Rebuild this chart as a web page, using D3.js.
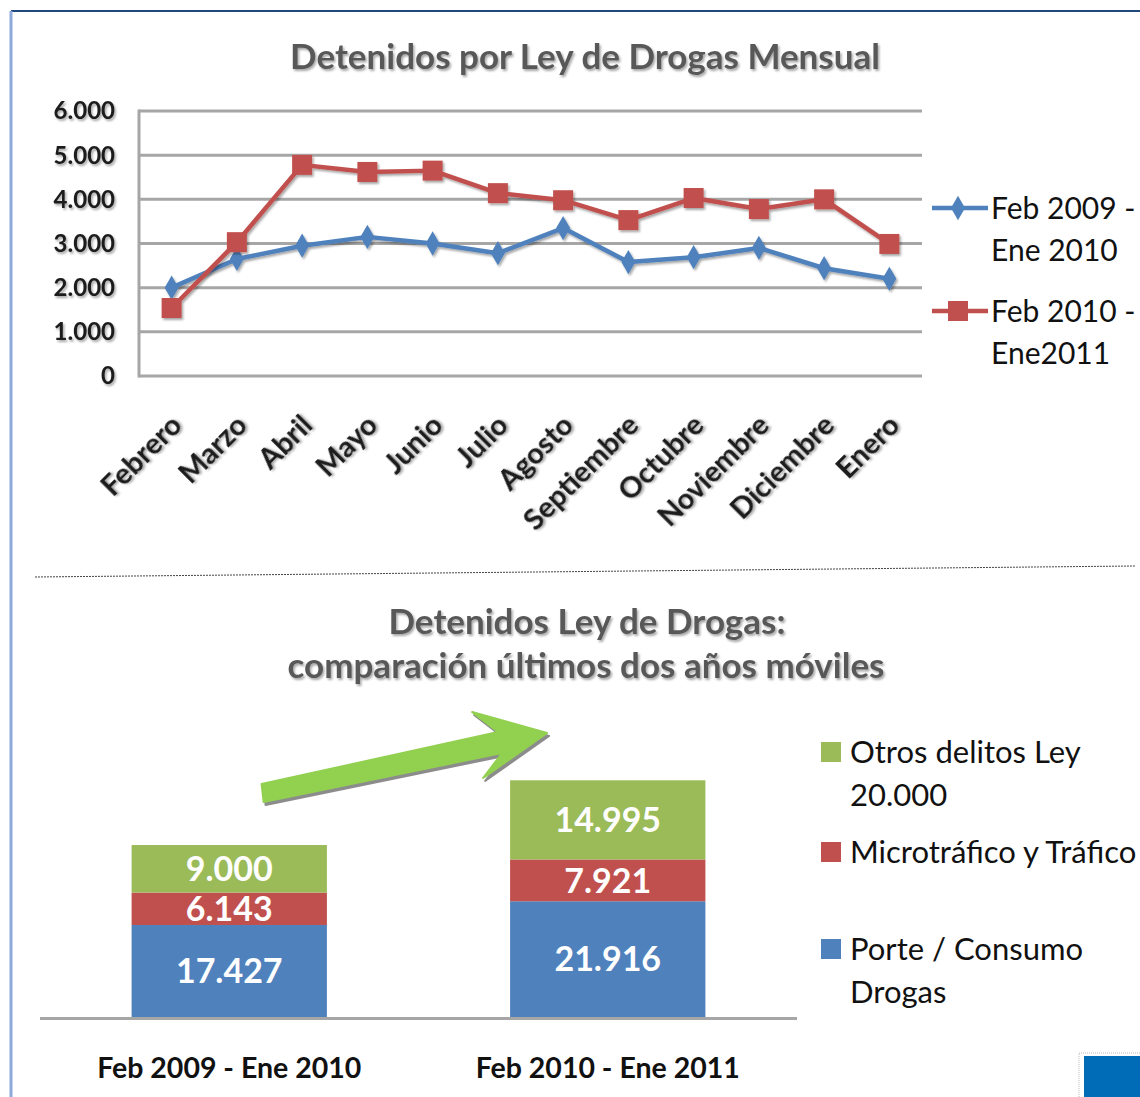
<!DOCTYPE html>
<meta charset="utf-8">
<style>
body { margin: 0; background: #fff; }
svg { display: block; font-family: Lato, "Open Sans", sans-serif; }
.grid line { stroke: #a6a6a6; stroke-width: 3px; }
.ttl { fill: #595959; font-weight: bold; font-size: 35px; text-anchor: middle; }
.lbl { fill: #1a1a1a; font-weight: bold; }
.leg { fill: #111; }
</style>
<body>
<script src="https://d3js.org/d3.v7.min.js"></script>
<script>

// data - monthly line chart
var months = ["Febrero", "Marzo", "Abril", "Mayo", "Junio", "Julio", "Agosto",
              "Septiembre", "Octubre", "Noviembre", "Diciembre", "Enero"];
var serie0910 = [2000, 2650, 2950, 3150, 3000, 2780, 3350, 2580, 2690, 2900, 2440, 2200];
var serie1011 = [1540, 3030, 4780, 4620, 4650, 4140, 3980, 3530, 4030, 3780, 4000, 2990];
var lineNames = [["Feb 2009 -", "Ene 2010"], ["Feb 2010 -", "Ene2011"]];
var yTicks = [0, 1000, 2000, 3000, 4000, 5000, 6000];

// data - stacked bars
var periods = ["Feb 2009 - Ene 2010", "Feb 2010 - Ene 2011"];
var porte = [17427, 21916];
var trafico = [6143, 7921];
var otros = [9000, 14995];
var stackNames = [["Otros delitos Ley", "20.000"], ["Microtráfico y Tráfico"], ["Porte / Consumo", "Drogas"]];

var blue = "#4f81bd", red = "#c0504d", green = "#9bbb59";
var fmt = function(v) { return d3.format(",")(v).replace(/,/g, "."); };

var svg = d3.select("body").append("svg")
    .attr("width", 1140)
    .attr("height", 1097);

// shadow filter
var defs = svg.append("defs");
var f = defs.append("filter").attr("id", "sh").attr("x", "-10%").attr("y", "-10%").attr("width", "130%").attr("height", "140%");
f.append("feDropShadow").attr("dx", 1.5).attr("dy", 2).attr("stdDeviation", 0.8)
  .attr("flood-color", "#000").attr("flood-opacity", 0.35);

// page frame
svg.append("line").attr("x1", 11).attr("x2", 1140).attr("y1", 11).attr("y2", 11)
  .style("stroke", "#1f497d").style("stroke-width", 2);
svg.append("line").attr("x1", 11).attr("x2", 11).attr("y1", 11).attr("y2", 1097)
  .style("stroke", "#8eaadb").style("stroke-width", 3);

// ---------- top chart ----------
var x = d3.scaleBand().domain(months).range([139, 922]);
var y = d3.scaleLinear().domain([0, 6000]).range([376, 111]);

svg.append("text").attr("class", "ttl").attr("x", 585).attr("y", 57)
  .attr("dy", "0.35em").attr("filter", "url(#sh)")
  .text("Detenidos por Ley de Drogas Mensual");

svg.append("g").attr("class", "grid")
  .selectAll("line").data(yTicks).enter().append("line")
  .attr("x1", 139).attr("x2", 922)
  .attr("y1", function(d) { return y(d); })
  .attr("y2", function(d) { return y(d); });
svg.append("line").attr("x1", 139).attr("x2", 139).attr("y1", y(6000) - 1.5).attr("y2", y(0) + 1.5)
  .style("stroke", "#a6a6a6").style("stroke-width", 3);

svg.append("g").selectAll("text").data(yTicks).enter().append("text")
  .attr("class", "lbl")
  .attr("x", 115)
  .attr("y", function(d) { return y(d); })
  .attr("dy", "0.35em")
  .attr("text-anchor", "end")
  .style("font-size", "24px")
  .attr("filter", "url(#sh)")
  .text(fmt);

svg.append("g").selectAll("text").data(months).enter().append("text")
  .attr("class", "lbl")
  .attr("transform", function(d) { return "translate(" + (x(d) + x.bandwidth() / 2 + 12) + ",427) rotate(-45)"; })
  .attr("text-anchor", "end")
  .style("font-size", "29px")
  .attr("filter", "url(#sh)")
  .text(function(d) { return d; });

var line = d3.line()
  .x(function(d, i) { return x(months[i]) + x.bandwidth() / 2; })
  .y(function(d) { return y(d); });

var diamond = d3.symbol().type(d3.symbolDiamond).size(170);
var square = d3.symbol().type(d3.symbolSquare).size(400);

[[serie0910, blue, diamond], [serie1011, red, square]].forEach(function(s) {
  var g = svg.append("g").attr("filter", "url(#sh)");
  g.append("path").datum(s[0])
    .attr("d", line)
    .style("fill", "none")
    .style("stroke", s[1])
    .style("stroke-width", 4.5)
    .style("stroke-linejoin", "round");
  g.selectAll("path.m").data(s[0]).enter().append("path")
    .attr("class", "m")
    .attr("transform", function(d, i) { return "translate(" + (x(months[i]) + x.bandwidth() / 2) + "," + y(d) + ")"; })
    .attr("d", s[2])
    .style("fill", s[1]);
});

// legend top
lineNames.forEach(function(n, i) {
  var ly = 208 + i * 103;
  var col = i === 0 ? blue : red;
  var g = svg.append("g");
  g.append("line").attr("x1", 932).attr("x2", 988).attr("y1", ly).attr("y2", ly)
    .style("stroke", col).style("stroke-width", 4.5);
  g.append("path").attr("transform", "translate(958," + ly + ")")
    .attr("d", i === 0 ? diamond : square).style("fill", col);
  g.selectAll("text").data(n).enter().append("text")
    .attr("class", "leg")
    .attr("x", 991)
    .attr("y", function(d, j) { return ly + j * 42; })
    .attr("dy", "0.35em")
    .style("font-size", "30px")
    .text(function(d) { return d; });
});

// separator
svg.append("line").attr("x1", 35).attr("y1", 577).attr("x2", 1135).attr("y2", 566)
  .style("stroke", "#444").style("stroke-width", 1).style("stroke-dasharray", "2,1");

// ---------- bottom chart ----------
svg.append("text").attr("class", "ttl").attr("x", 587).attr("y", 622)
  .attr("dy", "0.35em").attr("filter", "url(#sh)").text("Detenidos Ley de Drogas:");
svg.append("text").attr("class", "ttl").attr("x", 586).attr("y", 666)
  .attr("dy", "0.35em").attr("filter", "url(#sh)").text("comparación últimos dos años móviles");

var xb = d3.scaleBand().domain(periods).range([40, 797]).paddingInner(0.484).paddingOuter(0.242);
var yb = d3.scaleLinear().domain([0, 50000]).range([1017, 753]);

var rows = periods.map(function(p, i) {
  return { period: p, porte: porte[i], trafico: trafico[i], otros: otros[i] };
});
var keys = ["porte", "trafico", "otros"];
var colors = { porte: blue, trafico: red, otros: green };
var stacked = d3.stack().keys(keys)(rows);

var layers = svg.append("g").selectAll("g").data(stacked).enter().append("g")
  .style("fill", function(d) { return colors[d.key]; });
layers.selectAll("rect").data(function(d) { return d; }).enter().append("rect")
  .attr("x", function(d) { return xb(d.data.period); })
  .attr("width", xb.bandwidth())
  .attr("y", function(d) { return yb(d[1]); })
  .attr("height", function(d) { return yb(d[0]) - yb(d[1]); });
layers.selectAll("text").data(function(d) { return d; }).enter().append("text")
  .attr("x", function(d) { return xb(d.data.period) + xb.bandwidth() / 2; })
  .attr("y", function(d) { return (yb(d[0]) + yb(d[1])) / 2; })
  .attr("dy", "0.36em")
  .attr("text-anchor", "middle")
  .style("fill", "#fff")
  .style("font-weight", "bold")
  .style("font-size", "34px")
  .text(function(d) { return fmt(d[1] - d[0]); });

svg.append("line").attr("x1", 40).attr("x2", 797).attr("y1", yb(0) + 1.5).attr("y2", yb(0) + 1.5)
  .style("stroke", "#a6a6a6").style("stroke-width", 3);

svg.append("g").selectAll("text").data(periods).enter().append("text")
  .attr("x", function(d) { return xb(d) + xb.bandwidth() / 2; })
  .attr("y", 1068)
  .attr("dy", "0.35em")
  .attr("text-anchor", "middle")
  .style("fill", "#111")
  .style("font-weight", "bold")
  .style("font-size", "28.5px")
  .text(function(d) { return d; });

// green arrow between the bars
var ax0 = xb(periods[0]) + 130, ax1 = xb(periods[1]) + 37;
var arrowPts = [[ax0, 784], [ax1 - 49, 732], [ax1 - 75, 712], [ax1, 733],
                [ax1 - 64, 778], [ax1 - 45, 753], [ax0 + 2, 802]];
svg.append("polygon").attr("points", arrowPts.map(function(p) { return (p[0] + 2) + "," + (p[1] + 3); }).join(" "))
  .style("fill", "#8c8c8c").style("stroke", "#8c8c8c").style("stroke-width", 2).style("stroke-linejoin", "round");
svg.append("polygon").attr("points", arrowPts.map(function(p) { return p.join(","); }).join(" "))
  .style("fill", "#92d050").style("stroke", "#92d050").style("stroke-width", 2).style("stroke-linejoin", "round");

// legend bottom
var legY = [752, 852, 949];
var legKeys = ["otros", "trafico", "porte"];
stackNames.forEach(function(n, i) {
  var g = svg.append("g");
  g.append("rect").attr("x", 821).attr("y", legY[i] - 10).attr("width", 20).attr("height", 20)
    .style("fill", colors[legKeys[i]]);
  g.selectAll("text").data(n).enter().append("text")
    .attr("class", "leg")
    .attr("x", 850)
    .attr("y", function(d, j) { return legY[i] + j * 43; })
    .attr("dy", "0.35em")
    .style("font-size", "31px")
    .text(function(d) { return d; });
});

// slide corner element
svg.append("rect").attr("x", 1079).attr("y", 1053).attr("width", 70).attr("height", 60)
  .style("fill", "none").style("stroke", "#bbb").style("stroke-width", 1).style("stroke-dasharray", "1,1");
svg.append("rect").attr("x", 1084).attr("y", 1056).attr("width", 60).attr("height", 50)
  .style("fill", "#006cb7");

</script>
</body>
